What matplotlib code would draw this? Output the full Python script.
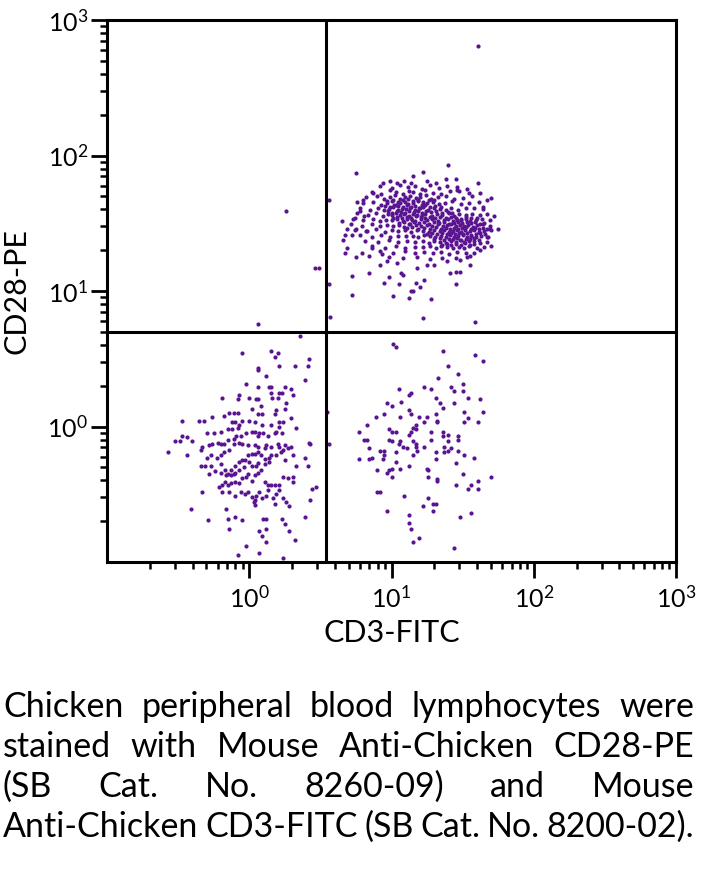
import matplotlib
matplotlib.use("Agg")
import matplotlib.pyplot as plt
import numpy as np
from matplotlib.ticker import FixedLocator, LogLocator, NullFormatter, FuncFormatter

plt.rcParams["font.family"] = ["Lato", "DejaVu Sans"]
plt.rcParams["mathtext.default"] = "regular"

# events as (log10 CD3-FITC, log10 CD28-PE)
upper_right_log = [
    # sparse edge / outliers
    (1.61, 2.81), (0.75, 1.87), (1.40, 1.93), (1.22, 1.88), (1.15, 1.85), (1.61, 1.80), (1.45, 1.83),
    (0.56, 1.67), (0.56, 1.05), (0.57, 0.81), (0.72, 1.11), (0.72, 0.97), (0.84, 1.13), (0.95, 1.06),
    (0.98, 1.10), (1.01, 0.96), (1.05, 1.05), (1.07, 1.13), (1.12, 0.95), (1.14, 1.00), (1.15, 1.00),
    (1.17, 1.06), (1.20, 1.03), (1.22, 0.80), (1.23, 1.08), (1.28, 0.94), (1.41, 1.13), (1.45, 1.14),
    (1.48, 1.14), (1.45, 1.05), (1.59, 0.77), (1.55, 1.19), (0.92, 1.19), (0.84, 1.26), (0.67, 1.28),
    (0.69, 1.32), (0.75, 1.25), (0.79, 1.28), (0.66, 1.38), (0.67, 1.41), (0.72, 1.41), (0.65, 1.52),
    (0.69, 1.46), (0.74, 1.54), (0.75, 1.46), (0.78, 1.59), (0.81, 1.55), (0.83, 1.44), (0.86, 1.32),
    (0.76, 1.66), (0.80, 1.67), (0.87, 1.72), (0.94, 1.80), (0.99, 1.81), (1.04, 1.80), (1.09, 1.81),
    (1.14, 1.80), (1.25, 1.81), (1.31, 1.80), (1.38, 1.83), (1.46, 1.77), (1.53, 1.75), (1.62, 1.72),
    (1.67, 1.67), (1.70, 1.69), (1.64, 1.62), (1.72, 1.55), (1.75, 1.46), (1.69, 1.46), (1.70, 1.33),
    (1.67, 1.40), (1.62, 1.30), (1.55, 1.26), (1.48, 1.23), (1.39, 1.22), (1.30, 1.19), (1.25, 1.19),
    (1.18, 1.17), (1.08, 1.12), (1.04, 1.21), (0.97, 1.22), (0.93, 1.27),
    # main population
    (0.920, 1.772), (1.005, 1.758), (1.063, 1.781), (1.114, 1.764), (1.168, 1.776), (1.214, 1.752),
    (1.272, 1.784), (1.331, 1.761), (1.392, 1.772), (1.458, 1.749),
    (0.861, 1.734), (0.928, 1.719), (0.987, 1.742), (1.031, 1.727), (1.078, 1.716), (1.124, 1.741),
    (1.152, 1.729), (1.203, 1.713), (1.238, 1.744), (1.292, 1.725), (1.347, 1.718), (1.413, 1.736),
    (1.476, 1.741), (1.543, 1.721),
    (0.823, 1.693), (0.897, 1.702), (0.948, 1.681), (0.991, 1.697), (1.024, 1.706), (1.058, 1.679),
    (1.093, 1.691), (1.127, 1.704), (1.171, 1.683), (1.199, 1.695), (1.243, 1.707), (1.281, 1.678),
    (1.327, 1.694), (1.384, 1.703), (1.437, 1.682), (1.502, 1.689), (1.566, 1.701),
    (0.968, 1.664), (1.012, 1.672), (1.047, 1.658), (1.081, 1.669), (1.114, 1.676), (1.149, 1.661),
    (1.186, 1.673), (1.223, 1.657), (1.262, 1.668), (1.302, 1.675),
    (0.802, 1.648), (0.871, 1.659), (0.926, 1.638), (0.968, 1.652), (1.003, 1.661), (1.031, 1.637),
    (1.062, 1.646), (1.094, 1.657), (1.118, 1.641), (1.152, 1.649), (1.183, 1.662), (1.217, 1.636),
    (1.248, 1.651), (1.293, 1.658), (1.331, 1.639), (1.379, 1.647), (1.428, 1.663), (1.491, 1.642),
    (1.548, 1.653), (1.612, 1.658),
    (0.951, 1.627), (0.986, 1.619), (1.019, 1.633), (1.049, 1.624), (1.078, 1.617), (1.108, 1.631),
    (1.137, 1.622), (1.168, 1.628), (1.201, 1.616), (1.232, 1.634), (1.268, 1.621), (1.309, 1.629),
    (1.347, 1.618),
    (0.781, 1.612), (0.852, 1.601), (0.908, 1.614), (0.947, 1.598), (0.983, 1.606), (1.012, 1.619),
    (1.043, 1.597), (1.071, 1.608), (1.102, 1.603), (1.129, 1.615), (1.163, 1.596), (1.192, 1.609),
    (1.221, 1.617), (1.258, 1.599), (1.302, 1.611), (1.341, 1.604), (1.383, 1.598), (1.421, 1.613),
    (1.468, 1.601), (1.523, 1.609), (1.582, 1.614), (1.643, 1.603),
    (0.972, 1.588), (1.006, 1.579), (1.037, 1.592), (1.066, 1.583), (1.097, 1.577), (1.126, 1.589),
    (1.157, 1.581), (1.187, 1.593), (1.214, 1.576), (1.246, 1.587), (1.278, 1.582), (1.313, 1.591),
    (1.352, 1.578), (1.394, 1.586), (1.428, 1.579),
    (0.758, 1.572), (0.834, 1.563), (0.893, 1.575), (0.938, 1.557), (0.972, 1.566), (1.003, 1.559),
    (1.031, 1.573), (1.062, 1.561), (1.091, 1.568), (1.121, 1.554), (1.149, 1.571), (1.182, 1.563),
    (1.213, 1.558), (1.238, 1.569), (1.282, 1.556), (1.321, 1.567), (1.358, 1.561), (1.402, 1.572),
    (1.438, 1.555), (1.477, 1.566), (1.521, 1.559), (1.568, 1.571), (1.621, 1.562), (1.672, 1.568),
    (1.008, 1.541), (1.041, 1.548), (1.073, 1.537), (1.106, 1.546), (1.138, 1.539), (1.171, 1.551),
    (1.204, 1.543), (1.236, 1.536), (1.269, 1.547), (1.303, 1.541), (1.341, 1.549), (1.382, 1.538),
    (1.418, 1.546), (1.451, 1.541), (1.487, 1.535), (1.523, 1.548), (1.562, 1.542), (1.601, 1.538),
    (0.731, 1.532), (0.803, 1.521), (0.868, 1.534), (0.917, 1.518), (0.962, 1.527), (1.001, 1.523),
    (1.038, 1.529), (1.079, 1.516), (1.112, 1.531), (1.143, 1.524), (1.168, 1.517), (1.209, 1.528),
    (1.251, 1.521), (1.287, 1.533), (1.327, 1.519), (1.368, 1.526), (1.398, 1.531), (1.431, 1.518),
    (1.459, 1.527), (1.492, 1.521), (1.521, 1.529), (1.553, 1.516), (1.591, 1.524), (1.638, 1.531),
    (1.689, 1.522),
    (1.052, 1.502), (1.087, 1.509), (1.121, 1.498), (1.156, 1.507), (1.191, 1.501), (1.226, 1.511),
    (1.262, 1.497), (1.298, 1.506), (1.337, 1.502), (1.372, 1.509), (1.405, 1.496), (1.438, 1.504),
    (1.468, 1.511), (1.497, 1.499), (1.528, 1.506), (1.558, 1.501), (1.589, 1.508), (1.621, 1.497),
    (1.652, 1.503),
    (0.718, 1.492), (0.792, 1.481), (0.861, 1.494), (0.921, 1.478), (0.968, 1.487), (1.011, 1.483),
    (1.053, 1.489), (1.091, 1.476), (1.129, 1.491), (1.172, 1.484), (1.208, 1.477), (1.251, 1.488),
    (1.288, 1.481), (1.327, 1.493), (1.362, 1.479), (1.391, 1.486), (1.419, 1.491), (1.452, 1.477),
    (1.481, 1.487), (1.512, 1.482), (1.538, 1.489), (1.571, 1.476), (1.603, 1.484), (1.642, 1.491),
    (1.693, 1.481),
    (1.108, 1.462), (1.143, 1.469), (1.187, 1.458), (1.229, 1.467), (1.271, 1.461), (1.312, 1.471),
    (1.348, 1.457), (1.381, 1.466), (1.412, 1.461), (1.441, 1.468), (1.469, 1.456), (1.498, 1.464),
    (1.527, 1.471), (1.556, 1.459), (1.584, 1.466), (1.613, 1.461), (1.642, 1.468), (1.672, 1.457),
    (0.742, 1.452), (0.821, 1.441), (0.892, 1.454), (0.951, 1.438), (1.002, 1.447), (1.048, 1.443),
    (1.097, 1.449), (1.138, 1.436), (1.181, 1.451), (1.218, 1.444), (1.262, 1.437), (1.302, 1.448),
    (1.338, 1.441), (1.368, 1.453), (1.401, 1.439), (1.431, 1.446), (1.462, 1.451), (1.489, 1.437),
    (1.518, 1.447), (1.551, 1.442), (1.579, 1.449), (1.612, 1.436), (1.651, 1.444), (1.702, 1.451),
    (1.248, 1.422), (1.283, 1.429), (1.321, 1.418), (1.356, 1.427), (1.388, 1.421), (1.418, 1.431),
    (1.447, 1.417), (1.476, 1.426), (1.503, 1.421), (1.533, 1.428), (1.562, 1.416), (1.591, 1.424),
    (1.622, 1.429), (1.656, 1.419),
    (0.781, 1.412), (0.862, 1.401), (0.928, 1.414), (0.991, 1.398), (1.048, 1.407), (1.102, 1.403),
    (1.151, 1.409), (1.188, 1.396), (1.231, 1.411), (1.268, 1.404), (1.309, 1.397), (1.348, 1.408),
    (1.381, 1.401), (1.409, 1.413), (1.442, 1.399), (1.471, 1.406), (1.502, 1.411), (1.529, 1.397),
    (1.561, 1.407), (1.592, 1.402), (1.628, 1.409), (1.681, 1.398),
    (1.302, 1.382), (1.338, 1.389), (1.372, 1.378), (1.403, 1.387), (1.432, 1.381), (1.462, 1.391),
    (1.491, 1.377), (1.521, 1.386), (1.552, 1.381), (1.583, 1.388), (1.612, 1.376),
    (0.812, 1.372), (0.902, 1.361), (0.981, 1.374), (1.048, 1.358), (1.112, 1.367), (1.168, 1.363),
    (1.218, 1.369), (1.262, 1.356), (1.301, 1.371), (1.341, 1.364), (1.381, 1.357), (1.418, 1.368),
    (1.451, 1.361), (1.482, 1.373), (1.511, 1.359), (1.542, 1.366), (1.578, 1.371), (1.621, 1.357),
    (1.668, 1.364),
    (1.352, 1.342), (1.388, 1.349), (1.421, 1.338), (1.453, 1.347), (1.487, 1.341), (1.519, 1.351),
    (1.551, 1.337), (1.583, 1.346),
    (0.862, 1.332), (0.951, 1.321), (1.031, 1.334), (1.098, 1.318), (1.162, 1.327), (1.218, 1.323),
    (1.271, 1.329), (1.312, 1.316), (1.351, 1.331), (1.391, 1.324), (1.431, 1.317), (1.472, 1.328),
    (1.509, 1.321), (1.548, 1.333), (1.601, 1.319), (1.652, 1.326),
    (0.921, 1.292), (1.012, 1.281), (1.092, 1.294), (1.162, 1.278), (1.228, 1.287), (1.291, 1.283),
    (1.348, 1.289), (1.402, 1.276), (1.461, 1.291), (1.521, 1.284), (1.581, 1.277),
    (0.982, 1.252), (1.081, 1.241), (1.178, 1.254), (1.272, 1.238), (1.358, 1.247), (1.451, 1.243),
    (1.532, 1.249),
]

upper_left_log = [(0.26, 1.59), (0.46, 1.17), (0.49, 1.17)]

lower_left_log = [
    (0.06, 0.76), (0.36, 0.67), (-0.05, 0.54), (0.15, 0.56), (0.20, 0.54), (0.18, 0.51), (0.21, 0.45),
    (0.32, 0.45), (0.41, 0.45), (0.42, 0.50), (0.06, 0.43), (0.06, 0.42), (0.12, 0.37), (0.39, 0.34),
    (-0.02, 0.31), (0.06, 0.29), (0.14, 0.29), (0.15, 0.29), (0.25, 0.29), (0.29, 0.28), (0.15, 0.25),
    (0.21, 0.25), (0.23, 0.25), (0.31, 0.23), (-0.19, 0.21), (-0.08, 0.20), (-0.07, 0.23), (0.00, 0.21),
    (0.05, 0.20), (0.06, 0.20), (0.16, 0.21), (0.20, 0.21), (0.26, 0.17), (0.25, 0.13), (0.08, 0.15),
    (0.02, 0.13), (0.19, 0.12), (0.18, 0.09), (0.09, 0.09), (0.06, 0.09), (-0.08, 0.10), (-0.11, 0.10),
    (-0.14, 0.10), (-0.18, 0.08), (-0.26, 0.07), (-0.32, 0.04), (-0.47, 0.04), (-0.35, 0.04), (-0.05, 0.04),
    (-0.10, 0.03), (-0.12, 0.03), (-0.07, 0.01), (0.00, 0.04), (0.04, 0.03), (0.09, 0.01), (0.15, 0.01),
    (0.21, 0.03), (0.24, 0.03), (0.29, 0.06), (0.33, -0.01), (-0.08, -0.01), (-0.12, -0.02), (-0.15, -0.02),
    (-0.20, -0.04), (-0.25, -0.05), (-0.30, -0.05), (-0.47, -0.07), (-0.44, -0.08), (-0.52, -0.11),
    (-0.49, -0.11), (-0.40, -0.11), (-0.57, -0.19), (-0.44, -0.21), (-0.33, -0.15), (-0.34, -0.17),
    (-0.28, -0.14), (-0.26, -0.13), (-0.22, -0.12), (-0.20, -0.13), (-0.18, -0.13), (-0.15, -0.10),
    (-0.11, -0.09), (-0.09, -0.07), (-0.06, -0.07), (-0.02, -0.05), (0.02, -0.04), (0.04, -0.04),
    (0.07, -0.05), (0.06, -0.07), (0.10, -0.05), (0.13, -0.07), (0.18, -0.05), (0.19, -0.04), (0.21, 0.00),
    (0.23, -0.05), (0.25, -0.14), (0.29, -0.15), (0.20, -0.13), (0.15, -0.15), (0.12, -0.14), (0.11, -0.16),
    (0.06, -0.15), (0.04, -0.14), (-0.01, -0.14), (-0.05, -0.13), (-0.07, -0.12), (-0.11, -0.13),
    (-0.14, -0.17), (-0.18, -0.19), (-0.20, -0.21), (-0.23, -0.23), (-0.27, -0.21), (-0.30, -0.23),
    (-0.34, -0.29), (-0.31, -0.29), (-0.27, -0.29), (-0.28, -0.35), (-0.24, -0.33), (-0.20, -0.28),
    (-0.20, -0.34), (-0.17, -0.32), (-0.13, -0.32), (-0.11, -0.35), (-0.13, -0.36), (-0.10, -0.29),
    (-0.07, -0.26), (-0.05, -0.25), (-0.01, -0.21), (0.02, -0.20), (0.04, -0.20), (0.06, -0.19),
    (0.08, -0.21), (0.11, -0.24), (0.14, -0.23), (0.15, -0.21), (0.19, -0.21), (0.22, -0.19), (0.25, -0.25),
    (0.27, -0.16), (0.31, -0.21), (0.33, -0.29), (0.39, -0.23), (0.41, -0.29), (0.43, -0.13), (0.42, -0.12),
    (0.24, -0.17), (0.21, -0.15), (0.14, -0.26), (0.11, -0.28), (0.06, -0.27), (0.05, -0.29), (0.02, -0.29),
    (0.00, -0.26), (-0.03, -0.25), (-0.04, -0.30), (-0.07, -0.32), (-0.10, -0.34), (-0.15, -0.35),
    (-0.16, -0.36), (-0.17, -0.41), (-0.19, -0.43), (-0.21, -0.45), (-0.15, -0.43), (-0.13, -0.42),
    (-0.10, -0.41), (-0.07, -0.42), (-0.05, -0.38), (-0.02, -0.37), (-0.01, -0.35), (0.02, -0.40),
    (0.04, -0.36), (0.06, -0.34), (0.08, -0.32), (0.11, -0.41), (0.13, -0.43), (0.15, -0.43), (0.18, -0.43),
    (0.21, -0.43), (0.24, -0.37), (0.27, -0.38), (0.31, -0.37), (0.31, -0.41), (-0.33, -0.48), (-0.19, -0.48),
    (-0.14, -0.48), (-0.10, -0.51), (-0.06, -0.48), (-0.03, -0.50), (-0.01, -0.48), (0.02, -0.52),
    (0.04, -0.54), (0.05, -0.51), (0.07, -0.48), (0.09, -0.53), (0.12, -0.51), (0.13, -0.47), (0.19, -0.50),
    (0.21, -0.47), (0.24, -0.53), (0.26, -0.56), (0.28, -0.59), (0.18, -0.57), (0.17, -0.53), (0.03, -0.56),
    (0.04, -0.58), (0.44, -0.46), (0.43, -0.54), (0.47, -0.45), (0.39, -0.67), (-0.41, -0.61), (-0.29, -0.69),
    (-0.16, -0.61), (-0.15, -0.68), (-0.10, -0.67), (-0.05, -0.69), (0.10, -0.68), (0.12, -0.68),
    (0.23, -0.68), (0.25, -0.72), (0.28, -0.77), (0.32, -0.84), (-0.14, -0.76), (0.07, -0.77), (0.12, -0.76),
    (0.09, -0.81), (0.12, -0.85), (-0.02, -0.88), (-0.08, -0.95), (0.07, -0.93), (0.24, -0.97), (0.55, 0.11),
]

lower_right_log = [
    (1.01, 0.61), (1.03, 0.59), (1.36, 0.56), (1.59, 0.53), (1.64, 0.48), (1.40, 0.45), (1.47, 0.39),
    (1.33, 0.36), (1.50, 0.31), (1.42, 0.29), (1.23, 0.29), (1.28, 0.28), (1.05, 0.28), (1.44, 0.26),
    (1.50, 0.26), (1.14, 0.25), (1.12, 0.23), (1.54, 0.21), (1.62, 0.20), (1.31, 0.21), (1.07, 0.18),
    (0.97, 0.17), (1.00, 0.15), (1.34, 0.17), (1.44, 0.17), (1.36, 0.14), (1.12, 0.12), (1.51, 0.11),
    (1.64, 0.11), (1.14, 0.09), (0.89, 0.07), (0.95, 0.09), (1.06, 0.07), (1.19, 0.07), (1.25, 0.07),
    (1.31, 0.09), (1.54, 0.06), (1.32, 0.04), (1.32, 0.03), (1.23, 0.03), (1.51, 0.03), (1.61, 0.03),
    (0.83, 0.01), (1.17, 0.01), (1.15, -0.01), (1.17, -0.02), (0.77, -0.04), (0.98, -0.02), (1.00, -0.04),
    (1.03, -0.04), (1.14, -0.04), (1.12, -0.06), (1.28, -0.04), (1.36, -0.04), (1.40, -0.06), (1.36, -0.07),
    (1.47, -0.07), (0.81, -0.10), (0.83, -0.10), (0.98, -0.10), (1.00, -0.11), (1.06, -0.11), (1.05, -0.13),
    (1.08, -0.15), (1.11, -0.16), (1.15, -0.11), (1.17, -0.13), (1.17, -0.15), (1.28, -0.10), (1.40, -0.11),
    (1.47, -0.10), (1.37, -0.15), (1.42, -0.16), (1.40, -0.18), (1.23, -0.15), (0.84, -0.16), (0.92, -0.18),
    (0.95, -0.18), (1.03, -0.19), (1.18, -0.18), (1.37, -0.19), (1.47, -0.18), (1.31, -0.19), (1.15, -0.21),
    (0.95, -0.21), (1.51, -0.21), (1.58, -0.23), (0.77, -0.24), (0.84, -0.24), (0.86, -0.23), (0.94, -0.24),
    (1.03, -0.26), (1.31, -0.24), (1.45, -0.27), (1.12, -0.29), (1.06, -0.31), (1.00, -0.31), (0.98, -0.32),
    (0.97, -0.34), (0.90, -0.32), (1.25, -0.31), (1.26, -0.32), (1.00, -0.37), (1.26, -0.37), (1.32, -0.39),
    (1.32, -0.40), (1.50, -0.35), (1.70, -0.37), (1.45, -0.43), (1.56, -0.43), (1.61, -0.40), (1.54, -0.46),
    (1.61, -0.46), (0.90, -0.48), (0.92, -0.48), (1.09, -0.51), (1.26, -0.53), (1.29, -0.57), (1.31, -0.57),
    (1.22, -0.59), (1.29, -0.62), (0.97, -0.62), (1.12, -0.65), (1.56, -0.64), (1.48, -0.67), (1.12, -0.71),
    (1.14, -0.76), (1.19, -0.82), (1.15, -0.85), (1.44, -0.90), (0.56, -0.13),
]

gate_cd3 = 3.45
gate_cd28 = 5.0
major_ticks = [1, 10, 100, 1000]
x_label = "CD3-FITC"
y_label = "CD28-PE"
caption_lines = [
    "Chicken peripheral blood lymphocytes were",
    "stained with Mouse Anti-Chicken CD28-PE",
    "(SB Cat. No. 8260-09) and Mouse",
    "Anti-Chicken CD3-FITC (SB Cat. No. 8200-02).",
]
dot_color = "#5a1490"

fig = plt.figure(figsize=(7.02, 8.69), dpi=100)
ax = fig.add_axes([107 / 702, 1 - 562 / 869, 569 / 702, 542 / 869])

for pop in [upper_right_log, upper_left_log, lower_left_log, lower_right_log]:
    arr = np.array(pop)
    ax.scatter(10 ** arr[:, 0], 10 ** arr[:, 1], s=9, color=dot_color, linewidths=0, zorder=2)

ax.axvline(gate_cd3, color="black", lw=2.2, zorder=3)
ax.axhline(gate_cd28, color="black", lw=2.2, zorder=3)

ax.set_xscale("log")
ax.set_yscale("log")
ax.set_xlim(0.1, 1000)
ax.set_ylim(0.1, 1000)

fmt = FuncFormatter(lambda v, p: "$10^{%d}$" % int(round(np.log10(v))))
for axis in [ax.xaxis, ax.yaxis]:
    axis.set_major_locator(FixedLocator(major_ticks))
    axis.set_minor_locator(LogLocator(base=10, subs=np.arange(2, 10), numticks=20))
    axis.set_major_formatter(fmt)
    axis.set_minor_formatter(NullFormatter())

ax.tick_params(which="major", length=11.5, width=2.0, labelsize=18, direction="out")
ax.tick_params(which="minor", length=5, width=1.8, direction="out")
ax.tick_params(axis="x", which="major", pad=5)
ax.tick_params(axis="y", which="major", pad=2)
for sp in ax.spines.values():
    sp.set_linewidth(2.2)

ax.set_xlabel(x_label, fontsize=22)
ax.set_ylabel(y_label, fontsize=22)
ax.xaxis.set_label_coords(0.5, -0.105)
ax.yaxis.set_label_coords(-0.135, 0.5)

# justified caption
fig.canvas.draw()
renderer = fig.canvas.get_renderer()
left_px, right_px = 3, 694
for i, line in enumerate(caption_lines):
    words = line.split()
    y = 1 - (717 + 40 * i) / 869
    texts = [fig.text(0, y, w, fontsize=24.5, va="baseline", ha="left") for w in words]
    widths = [t.get_window_extent(renderer).width for t in texts]
    gap = (right_px - left_px - sum(widths)) / (len(words) - 1)
    x = left_px
    for t, w in zip(texts, widths):
        t.set_x(x / 702)
        x += w + gap

fig.savefig("out.png", dpi=100)
